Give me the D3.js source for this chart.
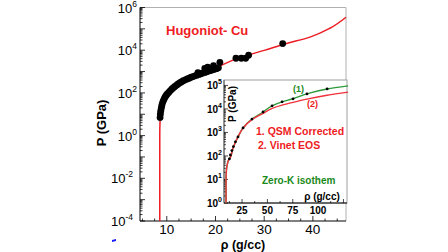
<!DOCTYPE html>
<html><head><meta charset="utf-8">
<script src="https://cdn.jsdelivr.net/npm/d3@7"></script>
<style>body{margin:0;background:#fff}svg{display:block}text{font-family:"Liberation Sans",Arial,sans-serif}</style>
</head><body><svg id="c" width="448" height="252"></svg>
<script>
// Main Hugoniot curve (rho g/cc, P GPa)
const hugRho = [8.56, 8.56, 8.62, 8.75, 9.0, 9.6, 10.5, 12.0, 14.0, 16.8, 20.3, 24.0, 26.8, 30.0, 34.2, 39.4, 43.5, 46.8];
const hugP   = [1e-4, 1, 5, 12, 22, 45, 100, 250, 480, 830, 1600, 3700, 6000, 9800, 19500, 41000, 107000, 350000];
// Experimental points
const expRho = [8.62,8.68,8.75,8.85,8.95,9.05,9.2,9.35,9.5,9.7,9.9,10.1,10.4,10.7,11.0,11.3,11.6,11.9,12.2,12.5,12.8,13.1,13.4,13.8,14.2,14.6,15.0,15.4,15.8,16.2,16.6,17.0,17.4,17.8,18.2,18.6,19.0,19.4,19.8,20.2,20.6,20.9,17.8,18.4,16.4,19.6,24.2,25.3,26.2,26.8,33.8];
const expP   = [7,10,14,18,24,30,38,46,55,66,78,90,105,125,148,170,195,220,250,280,310,340,370,410,450,490,540,580,630,680,730,790,850,910,980,1050,1120,1200,1280,1360,1500,2700,1400,1600,900,1900,4200,4200,4200,5800,20500];
// Inset: zero-K isotherm
const isoRho = [9.2, 9.2, 9.6, 10.5, 12, 13.1, 16.1, 21, 26, 34.8, 45.7, 54.6, 64.5, 75.3, 89, 108.9, 129.6];
const isoP1  = [1, 10, 25, 45, 70, 81, 219, 646, 1550, 3720, 7400, 13500, 20000, 27000, 43600, 70800, 95500];
const isoP2  = [1, 10, 25, 45, 70, 81, 219, 646, 1550, 3500, 6500, 10500, 14500, 19000, 26000, 38000, 52000];
const isoDotRho = [12.5, 13.5, 15, 16.5, 18.5, 21, 26, 34.8, 45.7, 54.6, 64.5, 75.3, 89, 108.9];
const isoDotP   = [75, 110, 170, 250, 400, 646, 1550, 3720, 7400, 13500, 20000, 27000, 43600, 70800];
const mainXTicks = [10, 20, 30, 40];
const mainYTicks = [-4, -2, 0, 2, 4, 6];
const insetXTicks = [25, 50, 75, 100];
const insetYTicks = [0, 1, 2, 3, 4, 5];

const svg = d3.select("#c");
const x = d3.scaleLinear().domain([4.5, 46.8]).range([140, 346]);
const y = d3.scaleLog().domain([1e-4, 1e6]).range([221, 7.5]);

// frame
svg.append("line").attr("x1",140).attr("x2",346).attr("y1",7.5).attr("y2",7.5).attr("stroke","#b0b0b0");
svg.append("line").attr("x1",346).attr("x2",346).attr("y1",7.5).attr("y2",221).attr("stroke","#b0b0b0");
svg.append("line").attr("x1",140).attr("x2",140).attr("y1",7.5).attr("y2",221).attr("stroke","#000");
svg.append("line").attr("x1",140).attr("x2",346).attr("y1",221).attr("y2",221).attr("stroke","#000");

// minor ticks left
const minorY = [];
for (let e=-4;e<6;e++) for (let m=1;m<10;m++) minorY.push(m*Math.pow(10,e));
minorY.push(1e6);
svg.append("g").selectAll("line").data(minorY).join("line")
  .attr("x1",140).attr("x2",d=>{const l=Math.log10(d); return Math.abs(l-Math.round(l))<1e-9 ? 145 : 142.5;})
  .attr("y1",d=>y(d)).attr("y2",d=>y(d)).attr("stroke","#000").attr("stroke-width",0.8);
const minorX = d3.range(5, 46, 2.5);
svg.append("g").selectAll("line").data(minorX).join("line")
  .attr("x1",d=>x(d)).attr("x2",d=>x(d)).attr("y1",221).attr("y2",d=>d%10===0?216:218.5)
  .attr("stroke","#000").attr("stroke-width",0.8);

// tick labels
const yl = svg.append("g").selectAll("text").data(mainYTicks).join("text")
  .attr("y",d=>y(Math.pow(10,d))+5).attr("font-size",13).attr("fill","#000");
yl.append("tspan").text("10");
yl.append("tspan").attr("dy",-6).attr("font-size",8.5).text(d=>d);
yl.attr("x",d=>137 - (String(d).length>1?4:0)).attr("text-anchor","end");
svg.append("g").selectAll("text").data(mainXTicks).join("text")
  .attr("x",d=>x(d)).attr("y",234).attr("text-anchor","middle").attr("font-size",13.5).text(d=>d);

// axis titles
svg.append("text").attr("transform","translate(106,123) rotate(-90)").attr("text-anchor","middle")
  .attr("font-size",13).attr("font-weight","bold").text("P (GPa)");
svg.append("text").attr("x",243).attr("y",249).attr("text-anchor","middle")
  .attr("font-size",12.5).attr("font-weight","bold").text("ρ (g/cc)");
svg.append("text").attr("x",166).attr("y",35).attr("font-size",13).attr("font-weight","bold").attr("fill","#ee1c24").text("Hugoniot- Cu");

// curve
svg.append("path").datum(hugRho.map((r,i)=>[r,hugP[i]])).attr("d",d3.line().x(d=>x(d[0])).y(d=>y(d[1])).curve(d3.curveMonotoneY))
  .attr("fill","none").attr("stroke","#ee1c24").attr("stroke-width",1.5);
svg.append("g").selectAll("circle").data(expRho.map((r,i)=>[r,expP[i]])).join("circle")
  .attr("cx",d=>x(d[0])).attr("cy",d=>y(d[1])).attr("r",3.4).attr("fill","#000");

// Inset
const ix = d3.scaleLinear().domain([7.2, 128.5]).range([224, 347]);
const iy = d3.scaleLog().domain([1, Math.pow(10,5.23)]).range([203, 80]);
svg.append("rect").attr("x",224).attr("y",80).attr("width",123).attr("height",123).attr("fill","#fff").attr("stroke","#a0a0a0").attr("stroke-width",1);
svg.append("line").attr("x1",224).attr("x2",347).attr("y1",203).attr("y2",203).attr("stroke","#000");
svg.append("line").attr("x1",224).attr("x2",224).attr("y1",80).attr("y2",203).attr("stroke","#555");
const iMinorY=[]; for(let e=0;e<5;e++) for(let m=1;m<10;m++) iMinorY.push(m*Math.pow(10,e)); iMinorY.push(1e5);
svg.append("g").selectAll("line").data(iMinorY).join("line")
  .attr("x1",224).attr("x2",d=>{const l=Math.log10(d);return Math.abs(l-Math.round(l))<1e-9?228:226;})
  .attr("y1",d=>iy(d)).attr("y2",d=>iy(d)).attr("stroke","#000").attr("stroke-width",0.7);
svg.append("g").selectAll("line").data(d3.range(12.5,128,12.5)).join("line")
  .attr("x1",d=>ix(d)).attr("x2",d=>ix(d)).attr("y1",203).attr("y2",d=>d%25===0?199:201)
  .attr("stroke","#000").attr("stroke-width",0.7);
const iyl = svg.append("g").selectAll("text").data(insetYTicks).join("text")
  .attr("x",222).attr("y",d=>iy(Math.pow(10,d))+4).attr("text-anchor","end").attr("font-size",10).attr("font-weight","bold");
iyl.append("tspan").text("10");
iyl.append("tspan").attr("dy",-5).attr("font-size",7).text(d=>d);
svg.append("g").selectAll("text").data(insetXTicks).join("text")
  .attr("x",d=>ix(d)).attr("y",214).attr("text-anchor","middle").attr("font-size",10).attr("font-weight","bold").text(d=>d);

svg.append("path").datum(isoRho.map((r,i)=>[r,isoP1[i]])).attr("d",d3.line().x(d=>ix(d[0])).y(d=>iy(d[1])).curve(d3.curveMonotoneY))
  .attr("fill","none").attr("stroke","#2e9a3c").attr("stroke-width",1.4);
svg.append("path").datum(isoRho.map((r,i)=>[r,isoP2[i]])).attr("d",d3.line().x(d=>ix(d[0])).y(d=>iy(d[1])).curve(d3.curveMonotoneY))
  .attr("fill","none").attr("stroke","#f0323c").attr("stroke-width",1.4);
svg.append("g").selectAll("circle").data(isoDotRho.map((r,i)=>[r,isoDotP[i]])).join("circle")
  .attr("cx",d=>ix(d[0])).attr("cy",d=>iy(d[1])).attr("r",1.4).attr("fill","#000");

svg.append("text").attr("transform","translate(236,104) rotate(-90)").attr("text-anchor","middle")
  .attr("font-size",10).attr("font-weight","bold").text("P (GPa)");
svg.append("text").attr("x",322).attr("y",200).attr("text-anchor","middle").attr("font-size",10).attr("font-weight","bold").text("ρ (g/cc)");
svg.append("text").attr("x",256).attr("y",135).attr("font-size",10.5).attr("font-weight","bold").attr("fill","#ee1c24").text("1. QSM Corrected");
svg.append("text").attr("x",258).attr("y",149).attr("font-size",10.5).attr("font-weight","bold").attr("fill","#ee1c24").text("2. Vinet EOS");
svg.append("text").attr("x",262).attr("y",184).attr("font-size",10).attr("font-weight","bold").attr("fill","#1a8a1a").text("Zero-K isothem");
svg.append("text").attr("x",293).attr("y",92).attr("font-size",9).attr("font-weight","bold").attr("fill","#1a8a1a").text("(1)");
svg.append("text").attr("x",307).attr("y",107).attr("font-size",9).attr("font-weight","bold").attr("fill","#ee1c24").text("(2)");

// stray blue mark
svg.append("path").attr("d","M112,240 L116,239 L116,241 L112,242 Z").attr("fill","#1a1aff");
</script></body></html>
